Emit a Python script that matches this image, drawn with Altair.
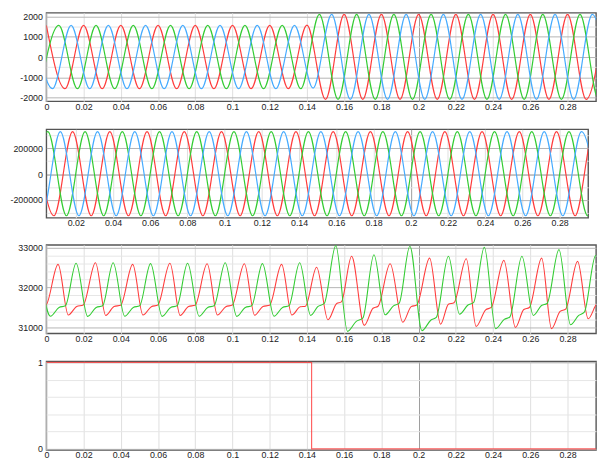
import altair as alt
import pandas as pd

FONT = "Liberation Sans Narrow, Liberation Sans, sans-serif"
FS = 9
RED = "#ff3c3c"
GREEN = "#33cc33"
BLUE = "#45abff"

# ---------------- panel 1 : three-phase current (extrema)
P1_RED_T = [0.00, 0.01, 0.02, 0.03, 0.04, 0.05, 0.06, 0.07, 0.08, 0.09, 0.10, 0.11, 0.12, 0.13, 0.14,
            0.15, 0.16, 0.17, 0.18, 0.19, 0.20, 0.21, 0.22, 0.23, 0.24, 0.25, 0.26, 0.27, 0.28, 0.29, 0.30]
P1_RED_V = [1560, -1550, 1560, -1550, 1560, -1550, 1560, -1550, 1560, -1550, 1560, -1550, 1560, -1550, 1570,
            -2080, 2100, -2080, 2100, -2080, 2100, -2080, 2100, -2080, 2100, -2080, 2100, -2080, 2100, -2080, 2100]
P1_GRN_T = [-0.0033, 0.0067, 0.0167, 0.0267, 0.0367, 0.0467, 0.0567, 0.0667, 0.0767, 0.0867, 0.0967,
            0.1067, 0.1167, 0.1267, 0.1367, 0.1467, 0.1567, 0.1667, 0.1767, 0.1867, 0.1967, 0.2067,
            0.2167, 0.2267, 0.2367, 0.2467, 0.2567, 0.2667, 0.2767, 0.2867, 0.2967, 0.3067]
P1_GRN_V = [-1550, 1560, -1550, 1560, -1550, 1560, -1550, 1560, -1550, 1560, -1550, 1560, -1550, 1560, -1550,
            2100, -2080, 2100, -2080, 2100, -2080, 2100, -2080, 2100, -2080, 2100, -2080, 2100, -2080, 2100, -2080, 2100]
P1_BLU_T = [-0.0067, 0.0033, 0.0133, 0.0233, 0.0333, 0.0433, 0.0533, 0.0633, 0.0733, 0.0833, 0.0933,
            0.1033, 0.1133, 0.1233, 0.1333, 0.1433, 0.1533, 0.1633, 0.1733, 0.1833, 0.1933, 0.2033,
            0.2133, 0.2233, 0.2333, 0.2433, 0.2533, 0.2633, 0.2733, 0.2833, 0.2933, 0.3033]
P1_BLU_V = [1560, -1550, 1560, -1550, 1560, -1550, 1560, -1550, 1560, -1550, 1560, -1550, 1560, -1550, 1560, -1520,
            2100, -2080, 2100, -2080, 2100, -2080, 2100, -2080, 2100, -2080, 2100, -2080, 2100, -2080, 2100, -2080]

# ---------------- panel 2 : three-phase voltage
P2_RED_T = [-0.0017, 0.0083, 0.0183, 0.0283, 0.0383, 0.0483, 0.0583, 0.0683, 0.0783, 0.0883, 0.0983,
            0.1083, 0.1183, 0.1283, 0.1383, 0.1483, 0.1583, 0.1683, 0.1783, 0.1883, 0.1983, 0.2083,
            0.2183, 0.2283, 0.2383, 0.2483, 0.2583, 0.2683, 0.2783, 0.2883, 0.2983, 0.3083]
P2_RED_V = [328000, -322000, 328000, -322000, 328000, -322000, 328000, -322000, 328000, -322000, 328000,
            -322000, 328000, -322000, 328000, -322000, 328000, -322000, 328000, -322000, 328000, -322000,
            328000, -322000, 328000, -322000, 328000, -322000, 328000, -322000, 328000, -322000]
P2_GRN_T = [-0.0050, 0.0050, 0.0150, 0.0250, 0.0350, 0.0450, 0.0550, 0.0650, 0.0750, 0.0850, 0.0950,
            0.1050, 0.1150, 0.1250, 0.1350, 0.1450, 0.1550, 0.1650, 0.1750, 0.1850, 0.1950, 0.2050,
            0.2150, 0.2250, 0.2350, 0.2450, 0.2550, 0.2650, 0.2750, 0.2850, 0.2950, 0.3050]
P2_GRN_V = [-322000, 328000, -322000, 328000, -322000, 328000, -322000, 328000, -322000, 328000, -322000,
            328000, -322000, 328000, -322000, 328000, -322000, 328000, -322000, 328000, -322000, 328000,
            -322000, 328000, -322000, 328000, -322000, 328000, -322000, 328000, -322000, 328000]
P2_BLU_T = [-0.0083, 0.0017, 0.0117, 0.0217, 0.0317, 0.0417, 0.0517, 0.0617, 0.0717, 0.0817, 0.0917,
            0.1017, 0.1117, 0.1217, 0.1317, 0.1417, 0.1517, 0.1617, 0.1717, 0.1817, 0.1917, 0.2017,
            0.2117, 0.2217, 0.2317, 0.2417, 0.2517, 0.2617, 0.2717, 0.2817, 0.2917, 0.3017]
P2_BLU_V = [328000, -322000, 328000, -322000, 328000, -322000, 328000, -322000, 328000, -322000, 328000,
            -322000, 328000, -322000, 328000, -322000, 328000, -322000, 328000, -322000, 328000, -322000,
            328000, -322000, 328000, -322000, 328000, -322000, 328000, -322000, 328000, -322000]

# ---------------- panel 3 : DC voltages (knots)
P3_RED_T = [-0.0137, -0.0082, -0.0037, -0.0002,
            0.0063, 0.0118, 0.0163, 0.0198, 0.0264, 0.0319, 0.0364, 0.0399,
            0.0464, 0.0519, 0.0564, 0.0599, 0.0664, 0.0719, 0.0764, 0.0799,
            0.0864, 0.0919, 0.0964, 0.0999, 0.1064, 0.1119, 0.1164, 0.1199,
            0.1264, 0.1319, 0.1364, 0.1392, 0.1452, 0.1513, 0.1560, 0.1585,
            0.1640, 0.1708, 0.1755, 0.1782, 0.1847, 0.1915, 0.1960, 0.1990,
            0.2059, 0.2118, 0.2160, 0.2190, 0.2256, 0.2309, 0.2360, 0.2390,
            0.2458, 0.2520, 0.2565, 0.2595, 0.2661, 0.2714, 0.2760, 0.2790,
            0.2854, 0.2911, 0.2960, 0.2990, 0.3055]
P3_RED_V = [32580, 31310, 31525, 31560,
            32580, 31310, 31525, 31560, 32620, 31300, 31525, 31555,
            32580, 31310, 31520, 31560, 32610, 31300, 31525, 31555,
            32595, 31310, 31520, 31560, 32595, 31305, 31525, 31555,
            32580, 31310, 31515, 31530, 32510, 31190, 31600, 31640,
            32786, 31050, 31480, 31530, 32596, 31130, 31520, 31560,
            32737, 31080, 31580, 31620, 32720, 31025, 31440, 31500,
            32680, 31000, 31450, 31500, 32737, 30968, 31400, 31460,
            32655, 31215, 31600, 31628, 32700]
P3_GRN_T = [-0.0040, 0.0022, 0.0068, 0.0102, 0.0160, 0.0222, 0.0268, 0.0302,
            0.0359, 0.0421, 0.0467, 0.0501, 0.0560, 0.0622, 0.0668, 0.0702,
            0.0759, 0.0821, 0.0867, 0.0901, 0.0961, 0.1023, 0.1069, 0.1103,
            0.1161, 0.1223, 0.1269, 0.1303, 0.1361, 0.1420, 0.1458, 0.1493,
            0.1555, 0.1618, 0.1665, 0.1700, 0.1760, 0.1820, 0.1865, 0.1895,
            0.1953, 0.2018, 0.2065, 0.2095, 0.2160, 0.2220, 0.2265, 0.2295,
            0.2353, 0.2414, 0.2460, 0.2490, 0.2555, 0.2616, 0.2660, 0.2690,
            0.2754, 0.2816, 0.2860, 0.2890, 0.2951, 0.3012]
P3_GRN_V = [32600, 31280, 31500, 31540, 32610, 31275, 31500, 31540,
            32620, 31280, 31500, 31540, 32600, 31275, 31500, 31540,
            32610, 31280, 31500, 31540, 32620, 31275, 31500, 31540,
            32600, 31280, 31500, 31540, 32620, 31300, 31520, 31600,
            33050, 30900, 31150, 31230, 32820, 31315, 31540, 31600,
            33035, 30918, 31180, 31250, 32786, 31330, 31560, 31620,
            33010, 30968, 31200, 31260, 32786, 31300, 31550, 31600,
            32950, 31067, 31300, 31380, 32800, 31300]

# ---------------- panel 4 : switching signal
P4_T = [0.0, 0.1425, 0.2985]
P4_V = [1, 0, 0]

X_TICKS = [0, 0.02, 0.04, 0.06, 0.08, 0.1, 0.12, 0.14, 0.16, 0.18, 0.2, 0.22, 0.24, 0.26, 0.28]
P1_YGRID = [-2000, -1500, -1000, -500, 0, 500, 1000, 1500, 2000]
P2_YGRID = [-300000, -200000, -100000, 0, 100000, 200000, 300000]
P3_YGRID = [31000, 31200, 31400, 31600, 31800, 32000, 32200, 32400, 32600, 32800, 33000]
P4_YGRID = [0, 0.2, 0.4, 0.6, 0.8, 1]

X_END = 0.2953


def frame(series):
    rows = []
    for name, ts, vs in series:
        for t, v in zip(ts, vs):
            rows.append({"s": name, "t": t, "v": v})
    return pd.DataFrame(rows)


def x_axis(ticks, ext):
    return alt.Axis(values=ticks, format=".2~f", ticks=False, domain=False, labelPadding=1,
                    labelFont=FONT, labelFontSize=FS, labelColor="#222", minExtent=ext,
                    labelOverlap=False, labelFlush=False,
                    gridColor={"condition": {"test": "abs(datum.value - 0.2) < 1e-6", "value": "#9c9c9c"},
                               "value": "#dedede"},
                    gridWidth=1)


def y_axis(grid, major_test, extent, zero_dark=False):
    conds = []
    if zero_dark:
        conds.append({"test": "datum.value === 0", "value": "#8a8a8a"})
    conds.append({"test": major_test, "value": "#b4b4b4"})
    return alt.Axis(values=grid, ticks=False, domain=False, labelPadding=4,
                    labelExpr="(" + major_test + ") ? replace(toString(datum.value), '\u2212', '-') : ''",
                    labelFont=FONT, labelFontSize=FS, labelColor="#222",
                    minExtent=extent, labelOverlap=False,
                    gridColor={"condition": conds, "value": "#e6e6e6"},
                    gridWidth=1)


def panel(df, names, colors, xdom, xticks, xext, ydom, ygrid, major_test, width, extent,
          interp="monotone", zero_dark=False, sw=1.2, opacity=1.0):
    return alt.Chart(df).mark_line(interpolate=interp, clip=True, strokeWidth=sw, opacity=opacity).encode(
        x=alt.X("t:Q", title=None, scale=alt.Scale(domain=xdom, nice=False, zero=False),
                axis=x_axis(xticks, xext)),
        y=alt.Y("v:Q", title=None, scale=alt.Scale(domain=ydom, nice=False, zero=False),
                axis=y_axis(ygrid, major_test, extent, zero_dark)),
        color=alt.Color("s:N", scale=alt.Scale(domain=names, range=colors), legend=None),
    ).properties(width=width, height=90)


p1 = panel(frame([("a", P1_RED_T, P1_RED_V), ("b", P1_GRN_T, P1_GRN_V), ("c", P1_BLU_T, P1_BLU_V)]),
           ["a", "b", "c"], [RED, GREEN, BLUE], [0, X_END], X_TICKS, 18,
           [-2170, 2180], P1_YGRID, "datum.value % 1000 === 0", 559, 30)

p2 = panel(frame([("a", P2_RED_T, P2_RED_V), ("b", P2_GRN_T, P2_GRN_V), ("c", P2_BLU_T, P2_BLU_V)]),
           ["a", "b", "c"], [RED, GREEN, BLUE], [0.0042, X_END], X_TICKS[1:], 16.3,
           [-338000, 346000], P2_YGRID, "datum.value % 200000 === 0", 551, 38, zero_dark=True)

p3 = panel(frame([("a", P3_RED_T, P3_RED_V), ("b", P3_GRN_T, P3_GRN_V)]),
           ["a", "b"], ["#ff4a4a", "#33cc33"], [0, X_END], X_TICKS, 14.5,
           [30850, 33070], P3_YGRID, "datum.value % 1000 === 0", 559, 30, sw=1.1)

p4 = panel(frame([("a", P4_T, P4_V)]),
           ["a"], ["#ff5c5c"], [0, X_END], X_TICKS, 10,
           [-0.011, 1.011], P4_YGRID, "datum.value === 0 || datum.value === 1", 559, 30,
           interp="step-after", sw=1.2, opacity=0.8)

chart = alt.vconcat(p1, p2, p3, p4, spacing=8.5).properties(
    padding={"left": 0, "top": 0, "right": 0, "bottom": 0},
    background="white",
).configure(padding={"left": 0, "top": 0, "right": 0, "bottom": 0}
).configure_view(stroke="#555555", strokeWidth=1.4)

chart.save("out.html", embed_options={"renderer": "svg", "actions": False})
